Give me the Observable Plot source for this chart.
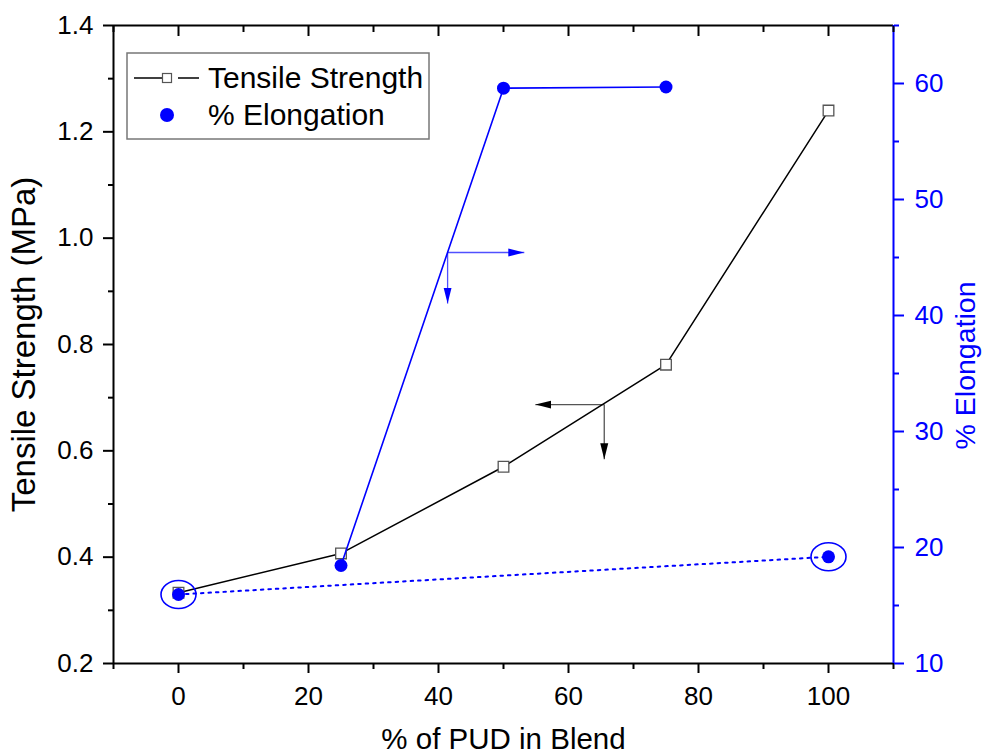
<!DOCTYPE html>
<html><head><meta charset="utf-8">
<script src="https://cdn.jsdelivr.net/npm/d3@7"></script>
<script src="https://cdn.jsdelivr.net/npm/@observablehq/plot@0.6"></script>
<style>
body{margin:0;background:#fff;}
#wrap{position:relative;width:983px;height:753px;font-family:"Liberation Sans",Arial,sans-serif;}
#legend{position:absolute;left:0;top:0;pointer-events:none;}
</style>
</head><body><div id="wrap"></div>
<script>
// ---- data ----
const pudPercent = [0, 25, 50, 75, 100];
const tensileStrength = [0.333, 0.407, 0.570, 0.762, 1.240];
const elongation = [15.95, 18.45, 59.6, 59.7, 19.2];
const solidElongationIdx = [1, 2, 3];
const dottedElongationIdx = [0, 4];
const circledElongationIdx = [0, 4];

const xMajorTicks = [0, 20, 40, 60, 80, 100];
const xMinorTicks = [-10, 10, 30, 50, 70, 90, 110];
const leftMajorTicks = [0.2, 0.4, 0.6, 0.8, 1.0, 1.2, 1.4];
const leftMinorTicks = [0.3, 0.5, 0.7, 0.9, 1.1, 1.3];
const rightMajorTicks = [10, 20, 30, 40, 50, 60];
const rightMinorTicks = [15, 25, 35, 45, 55, 65];
const xDomain = [-10, 110];
const leftDomain = [0.2, 1.4];
const rightDomain = [10, 65];

// annotation arrows (x in % PUD, y in tensile-strength units)
const blueArrows = [
  {x1: 41.4, y1: 0.973, x2: 53.2, y2: 0.973},
  {x1: 41.4, y1: 0.973, x2: 41.4, y2: 0.877}
];
const blackArrows = [
  {x1: 65.5, y1: 0.687, x2: 54.9, y2: 0.687},
  {x1: 65.5, y1: 0.687, x2: 65.5, y2: 0.584}
];

// ---- helpers ----
const e2y = e => leftDomain[0] + (e - rightDomain[0]) * (leftDomain[1] - leftDomain[0]) / (rightDomain[1] - rightDomain[0]);

const tensile = pudPercent.map((x, i) => ({x, y: tensileStrength[i]}));
const elong = pudPercent.map((x, i) => ({x, e: elongation[i], y: e2y(elongation[i])}));
const solidE = solidElongationIdx.map(i => elong[i]);
const dottedE = dottedElongationIdx.map(i => elong[i]);
const circledE = circledElongationIdx.map(i => elong[i]);

function filledArrow(fill) {
  return function (color, context) {
    const m = d3.create("svg:marker")
      .attr("viewBox", "0 -5 16 10")
      .attr("markerWidth", 16).attr("markerHeight", 10)
      .attr("markerUnits", "userSpaceOnUse")
      .attr("orient", "auto").attr("refX", 16).attr("refY", 0)
      .attr("fill", fill).attr("stroke", "none");
    m.append("path").attr("d", "M0,-4L16,0L0,4Z");
    return m.node();
  };
}

const ellipseSymbol = {
  draw(ctx, size) {
    const r = Math.sqrt(size / Math.PI);
    const rx = r * 1.25, ry = r, k = 0.5523;
    ctx.moveTo(rx, 0);
    ctx.bezierCurveTo(rx, k * ry, k * rx, ry, 0, ry);
    ctx.bezierCurveTo(-k * rx, ry, -rx, k * ry, -rx, 0);
    ctx.bezierCurveTo(-rx, -k * ry, -k * rx, -ry, 0, -ry);
    ctx.bezierCurveTo(k * rx, -ry, rx, -k * ry, rx, 0);
    ctx.closePath();
  }
};

const BLUE = "#0000ff";
const FONT = "Liberation Sans, Arial, sans-serif";
const TICK_FONT = 26;
const noLabel = () => "";

const chart = Plot.plot({
  width: 983,
  height: 753,
  marginLeft: 113,
  marginRight: 90,
  marginTop: 25,
  marginBottom: 90,
  style: {fontFamily: FONT, background: "white", color: "black", overflow: "visible"},
  x: {domain: xDomain},
  y: {domain: leftDomain},
  marks: [
    // frame lines
    Plot.ruleY([leftDomain[0]], {stroke: "black", strokeWidth: 2}),
    Plot.ruleY([leftDomain[1]], {stroke: "black", strokeWidth: 2}),
    Plot.ruleX([xDomain[0]], {stroke: "black", strokeWidth: 2}),
    Plot.ruleX([xDomain[1]], {stroke: BLUE, strokeWidth: 2}),
    // bottom axis ticks
    Plot.axisX({anchor: "bottom", ticks: xMajorTicks, tickSize: 10, strokeWidth: 2, tickFormat: noLabel, label: null}),
    Plot.axisX({anchor: "bottom", ticks: xMinorTicks, tickSize: 6, strokeWidth: 2, tickFormat: noLabel, label: null}),
    // top axis (inward ticks)
    Plot.axisX({anchor: "top", ticks: xMajorTicks, tickSize: -10, strokeWidth: 2, tickFormat: noLabel, label: null}),
    Plot.axisX({anchor: "top", ticks: xMinorTicks, tickSize: -6, strokeWidth: 2, tickFormat: noLabel, label: null}),
    // left axis ticks
    Plot.axisY({anchor: "left", ticks: leftMajorTicks, tickSize: 10, strokeWidth: 2, tickFormat: noLabel, label: null}),
    Plot.axisY({anchor: "left", ticks: leftMinorTicks, tickSize: 5, strokeWidth: 2, tickFormat: noLabel, label: null}),
    // right axis ticks (elongation)
    Plot.axisY({anchor: "right", ticks: rightMajorTicks.map(e2y), tickSize: 10, strokeWidth: 2, stroke: BLUE, tickFormat: noLabel, label: null}),
    Plot.axisY({anchor: "right", ticks: rightMinorTicks.map(e2y), tickSize: 5, strokeWidth: 2, stroke: BLUE, tickFormat: noLabel, label: null}),
    // tick labels
    Plot.text(xMajorTicks, {x: d => d, frameAnchor: "bottom", lineAnchor: "top", textAnchor: "middle", dy: 23,
      text: d => d3.format("d")(d), fontSize: TICK_FONT, fill: "black"}),
    Plot.text(leftMajorTicks, {y: d => d, frameAnchor: "left", textAnchor: "end", dx: -20,
      text: d => d3.format(".1f")(d), fontSize: TICK_FONT, fill: "black"}),
    Plot.text(rightMajorTicks, {y: d => e2y(d), frameAnchor: "right", textAnchor: "start", dx: 21,
      text: d => d3.format("d")(d), fontSize: TICK_FONT, fill: BLUE}),
    // axis titles
    Plot.text(["% of PUD in Blend"], {frameAnchor: "bottom", textAnchor: "middle", lineAnchor: "bottom", dy: 85, fontSize: 29.5, fill: "black"}),
    Plot.text(["Tensile Strength (MPa)"], {frameAnchor: "left", textAnchor: "middle", rotate: -90, dx: -89, fontSize: 33, fill: "black"}),
    Plot.text(["% Elongation"], {frameAnchor: "right", textAnchor: "middle", rotate: -90, dx: 72, dy: 21, fontSize: 28.5, fill: BLUE}),
    // annotation arrows
    Plot.link(blueArrows, {x1: "x1", y1: "y1", x2: "x2", y2: "y2", stroke: "#5050ff", strokeWidth: 1.3, markerEnd: filledArrow(BLUE)}),
    Plot.link(blackArrows, {x1: "x1", y1: "y1", x2: "x2", y2: "y2", stroke: "#555", strokeWidth: 1.3, markerEnd: filledArrow("black")}),
    // tensile strength
    Plot.line(tensile, {x: "x", y: "y", stroke: "black", strokeWidth: 1.5}),
    Plot.dot(tensile, {x: "x", y: "y", symbol: "square", r: 6, fill: "white", stroke: "#555", strokeWidth: 1.3}),
    // elongation
    Plot.line(solidE, {x: "x", y: "y", stroke: BLUE, strokeWidth: 1.6}),
    Plot.line(dottedE, {x: "x", y: "y", stroke: BLUE, strokeWidth: 2, strokeDasharray: "2.5,5"}),
    Plot.dot(elong, {x: "x", y: "y", r: 6.5, fill: BLUE, stroke: "none"}),
    Plot.dot(circledE, {x: "x", y: "y", symbol: ellipseSymbol, r: 14, fill: "none", stroke: BLUE, strokeWidth: 1.6})
  ]
});

const wrap = document.getElementById("wrap");
wrap.appendChild(chart);

// legend overlay
const legend = d3.select(wrap).append("svg").attr("id", "legend")
  .attr("width", 983).attr("height", 753)
  .style("font-family", FONT);
legend.append("rect").attr("x", 127).attr("y", 53).attr("width", 302).attr("height", 86)
  .attr("fill", "white").attr("stroke", "#777").attr("stroke-width", 1.5);
legend.append("line").attr("x1", 134).attr("x2", 162).attr("y1", 78).attr("y2", 78).attr("stroke", "black").attr("stroke-width", 1.5);
legend.append("line").attr("x1", 178).attr("x2", 199).attr("y1", 78).attr("y2", 78).attr("stroke", "black").attr("stroke-width", 1.5);
legend.append("rect").attr("x", 162.5).attr("y", 73.5).attr("width", 9).attr("height", 9)
  .attr("fill", "white").attr("stroke", "#555").attr("stroke-width", 1.2);
legend.append("text").attr("x", 208).attr("y", 88).attr("font-size", 30).attr("fill", "black").text("Tensile Strength");
legend.append("circle").attr("cx", 167).attr("cy", 115).attr("r", 7).attr("fill", BLUE);
legend.append("text").attr("x", 208).attr("y", 125).attr("font-size", 30).attr("fill", "black").text("% Elongation");
</script>
</body></html>
